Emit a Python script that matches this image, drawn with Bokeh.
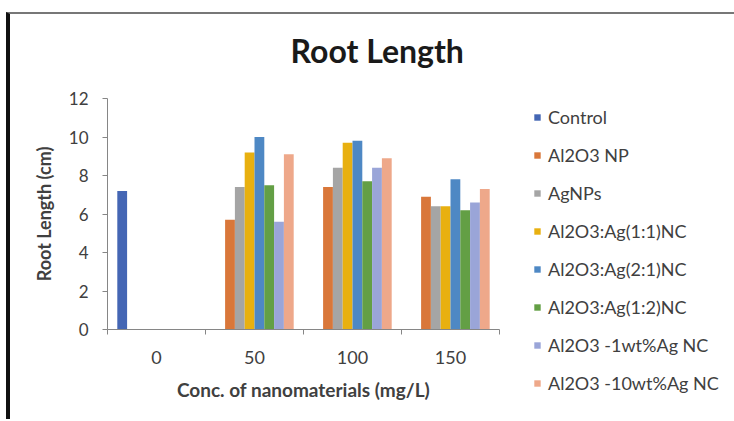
import math
from bokeh.plotting import figure
from bokeh.models import ColumnDataSource, FixedTicker, Legend, LegendItem, Range1d
from bokeh.transform import dodge
from bokeh.embed import file_html
from bokeh.resources import INLINE

nan = float("nan")

categories = ["0", "50", "100", "150"]
series_names = ["Control", "Al2O3 NP", "AgNPs", "Al2O3:Ag(1:1)NC", "Al2O3:Ag(2:1)NC",
                "Al2O3:Ag(1:2)NC", "Al2O3 -1wt%Ag NC", "Al2O3 -10wt%Ag NC"]
control = [7.2, nan, nan, nan]
al2o3_np = [nan, 5.7, 7.4, 6.9]
ag_nps = [nan, 7.4, 8.4, 6.4]
nc_1_1 = [nan, 9.2, 9.7, 6.4]
nc_2_1 = [nan, 10.0, 9.8, 7.8]
nc_1_2 = [nan, 7.5, 7.7, 6.2]
nc_1wt = [nan, 5.6, 8.4, 6.6]
nc_10wt = [nan, 9.1, 8.9, 7.3]
series_values = [control, al2o3_np, ag_nps, nc_1_1, nc_2_1, nc_1_2, nc_1wt, nc_10wt]
y_ticks = [0, 2, 4, 6, 8, 10, 12]

colors = ["#4466B4", "#D9773A", "#A5A5A5", "#E8B010", "#4E88C4", "#639F45", "#9AA5D8", "#EEA88A"]
FONT = "Lato"

p = figure(frame_width=392, frame_height=231, x_range=Range1d(0, 4), y_range=Range1d(0, 12),
           output_backend="svg", toolbar_location=None,
           min_border_left=97, min_border_right=231, min_border_top=84, min_border_bottom=90)
p.styles = {"border-left": "4px solid #111111", "border-top": "2px solid #777777",
            "margin-top": "12px", "margin-left": "6px"}
p.outline_line_color = None
p.xgrid.visible = False
p.ygrid.visible = False
p.background_fill_color = "white"
p.border_fill_color = "white"

p.title.text = "Root Length"
p.title.align = "left"
p.title.offset = 183
p.title.standoff = 0
p.title.padding = dict(left=0, right=0, top=0, bottom=29)
p.title.text_font = FONT
p.title.text_font_size = "32px"
p.title.text_font_style = "bold"
p.title.text_color = "#1a1a1a"

n = len(series_names)
bar_w = 0.1
items = []
for k, (name, vals, col) in enumerate(zip(series_names, series_values, colors)):
    xs, tops = [], []
    for i, v in enumerate(vals):
        if not math.isnan(v):
            xs.append(i + 0.5)
            tops.append(v)
    src = ColumnDataSource(dict(xc=xs, top=tops))
    off = (k - (n - 1) / 2) * bar_w
    r = p.vbar(x=dodge("xc", off), top="top", width=bar_w, source=src,
               fill_color=col, line_color=None)
    items.append(LegendItem(label=name, renderers=[r]))

axis_col = "#868686"
txt_col = "#404040"

# y axis
ya = p.yaxis[0]
ya.ticker = FixedTicker(ticks=y_ticks, minor_ticks=[])
ya.axis_line_color = axis_col
ya.major_tick_line_color = axis_col
ya.major_tick_out = 5
ya.major_tick_in = 0
ya.minor_tick_line_color = None
ya.major_label_text_font = FONT
ya.major_label_text_font_size = "17px"
ya.major_label_text_color = txt_col
ya.major_label_standoff = 14
ya.axis_label = "Root Length (cm)"
ya.axis_label_text_font = FONT
ya.axis_label_text_font_size = "18px"
ya.axis_label_text_font_style = "bold"
ya.axis_label_text_color = txt_col
ya.axis_label_standoff = 11

# x axis
xa = p.xaxis[0]
xa.ticker = FixedTicker(ticks=[i + 0.5 for i in range(len(categories))],
                        minor_ticks=list(range(len(categories) + 1)))
xa.major_label_overrides = {i + 0.5: c for i, c in enumerate(categories)}
xa.axis_line_color = axis_col
xa.major_tick_line_color = None
xa.major_tick_out = 5
xa.major_tick_in = 0
xa.minor_tick_line_color = axis_col
xa.minor_tick_out = 5
xa.minor_tick_in = 0
xa.major_label_text_font = FONT
xa.major_label_text_font_size = "18px"
xa.major_label_text_color = txt_col
xa.major_label_standoff = 16
xa.axis_label = "Conc. of nanomaterials (mg/L)"
xa.axis_label_text_font = FONT
xa.axis_label_text_font_size = "19px"
xa.axis_label_text_font_style = "bold"
xa.axis_label_text_color = txt_col
xa.axis_label_standoff = 11

legend = Legend(items=items, location=(34, -65), glyph_width=8, glyph_height=8,
                label_height=20, spacing=16, padding=0, margin=0, label_standoff=7,
                border_line_color=None, background_fill_alpha=0,
                label_text_font=FONT, label_text_font_size="18px", label_text_color=txt_col)
p.add_layout(legend, "right")

open("out.html", "w").write(file_html(p, INLINE))
